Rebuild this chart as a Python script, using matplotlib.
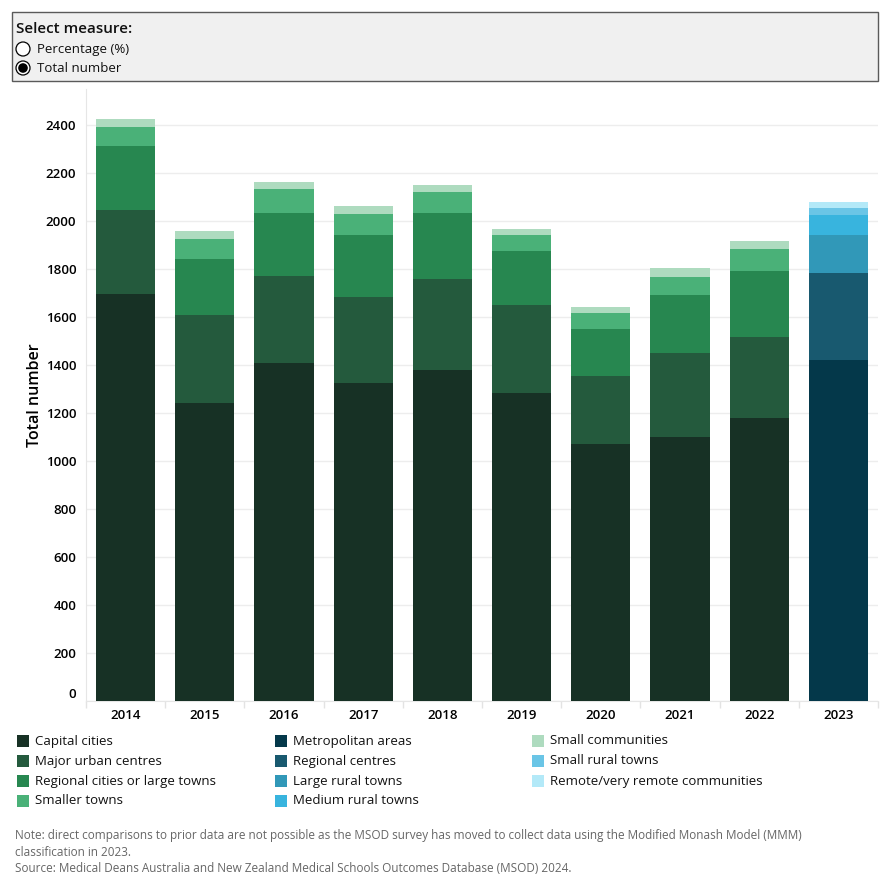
import numpy as np
import matplotlib
matplotlib.use("Agg")
import matplotlib.pyplot as plt
from matplotlib.patches import Rectangle, Circle

plt.rcParams["font.family"] = ["Open Sans", "DejaVu Sans"]

years = ["2014", "2015", "2016", "2017", "2018", "2019", "2020", "2021", "2022", "2023"]

# ASGS remoteness categories (2014-2022)
capital = [1697, 1242, 1408, 1325, 1379, 1283, 1071, 1100, 1179, 0]
major_urban = [349, 366, 364, 358, 379, 367, 283, 350, 338, 0]
regional_cities = [266, 234, 261, 259, 275, 225, 196, 242, 275, 0]
smaller_towns = [80, 83, 100, 87, 88, 67, 67, 75, 91, 0]
small_comm = [33, 33, 29, 33, 29, 25, 25, 37, 34, 0]

# Modified Monash Model categories (2023)
metro = [0, 0, 0, 0, 0, 0, 0, 0, 0, 1421]
regional_centres = [0, 0, 0, 0, 0, 0, 0, 0, 0, 362]
large_rural = [0, 0, 0, 0, 0, 0, 0, 0, 0, 159]
medium_rural = [0, 0, 0, 0, 0, 0, 0, 0, 0, 83]
small_rural = [0, 0, 0, 0, 0, 0, 0, 0, 0, 29]
remote = [0, 0, 0, 0, 0, 0, 0, 0, 0, 25]

series = [
    ("Capital cities", capital, "#173125"),
    ("Major urban centres", major_urban, "#245a3d"),
    ("Regional cities or large towns", regional_cities, "#278750"),
    ("Smaller towns", smaller_towns, "#4ab178"),
    ("Metropolitan areas", metro, "#04384a"),
    ("Regional centres", regional_centres, "#18596f"),
    ("Large rural towns", large_rural, "#3198b8"),
    ("Medium rural towns", medium_rural, "#38b4de"),
    ("Small communities", small_comm, "#aedbbf"),
    ("Small rural towns", small_rural, "#6ac5e6"),
    ("Remote/very remote communities", remote, "#b3e9f8"),
]
stack_order = [0, 1, 2, 3, 8, 4, 5, 6, 7, 9, 10]

fig = plt.figure(figsize=(8.9, 8.9), dpi=100)
W = H = 890.0
def fx(px): return px / W
def fy(py): return 1 - py / H

# ---------- selector box ----------
fig.add_artist(Rectangle((fx(12), fy(81)), fx(878) - fx(12), fy(12) - fy(81),
                         transform=fig.transFigure, fc="#f0f0f0", ec="#5a5a5a", lw=1))
fig.text(fx(16), fy(29), "Select measure:", fontsize=11, fontweight="semibold",
         va="center", ha="left", color="#111111")
for i, (lab, on) in enumerate([("Percentage (%)", False), ("Total number", True)]):
    yc = 49 + 19 * i
    fig.add_artist(Circle((fx(23), fy(yc)), 7 / W, transform=fig.transFigure,
                          fc="white", ec="black", lw=0.9))
    if on:
        fig.add_artist(Circle((fx(23), fy(yc)), 4.8 / W, transform=fig.transFigure,
                              fc="black", ec="none"))
    fig.text(fx(37), fy(yc), lab, fontsize=9.5, va="center", ha="left", color="#111111")

# ---------- bars ----------
ax = fig.add_axes([fx(86), fy(701), fx(878) - fx(86), fy(89) - fy(701)])
x = np.arange(len(years))
bottom = np.zeros(len(years))
for k in stack_order:
    lab, vals, col = series[k]
    v = np.array(vals, dtype=float)
    ax.bar(x, v, 0.745, bottom=bottom, color=col, lw=0, zorder=3)
    bottom += v

ax.set_xlim(-0.5, len(years) - 0.5)
ax.set_ylim(0, 2550)
ax.set_yticks(np.arange(0, 2401, 200))
ax.set_yticklabels([str(v) for v in range(0, 2401, 200)], fontsize=9.5, fontweight="semibold")
ax.yaxis.get_ticklabels()[0].set_va("bottom")
ax.set_xticks(x)
ax.set_xticklabels(years, fontsize=9.5, fontweight="semibold")
ax.set_xticks(np.arange(-0.5, len(years), 1), minor=True)
ax.tick_params(axis="both", which="major", length=0)
ax.tick_params(axis="y", pad=7)
ax.tick_params(axis="x", pad=6)
ax.tick_params(axis="x", which="minor", length=5, color="#e3e3e3", width=1)
ax.grid(axis="y", color="#ededed", lw=1, zorder=0)
for s in ["top", "right"]:
    ax.spines[s].set_visible(False)
ax.spines["left"].set_color("#e6e6e6")
ax.spines["bottom"].set_color("#e6e6e6")
ax.set_ylabel("Total number", fontsize=11.5, fontweight="semibold", labelpad=2)

# ---------- legend ----------
cols_x = [17, 275, 532]
rows_y = [741, 761, 781, 801]
col_members = [[0, 1, 2, 3], [4, 5, 6, 7], [8, 9, 10]]
for ci, members in enumerate(col_members):
    for ri, k in enumerate(members):
        lab, _, col = series[k]
        fig.add_artist(Rectangle((fx(cols_x[ci]), fy(rows_y[ri] + 6)), 12 / W, 12 / H,
                                 transform=fig.transFigure, fc=col, ec="none"))
        fig.text(fx(cols_x[ci] + 18), fy(rows_y[ri]), lab, fontsize=9.5,
                 va="center", ha="left", color="#111111")

# ---------- notes ----------
notes = [
    "Note: direct comparisons to prior data are not possible as the MSOD survey has moved to collect data using the Modified Monash Model (MMM)",
    "classification in 2023.",
    "Source: Medical Deans Australia and New Zealand Medical Schools Outcomes Database (MSOD) 2024.",
]
for i, t in enumerate(notes):
    fig.text(fx(15), fy(836 + 16.5 * i), t, fontsize=8.5, color="#666666",
             va="center", ha="left")

fig.savefig("out.png", dpi=100)
